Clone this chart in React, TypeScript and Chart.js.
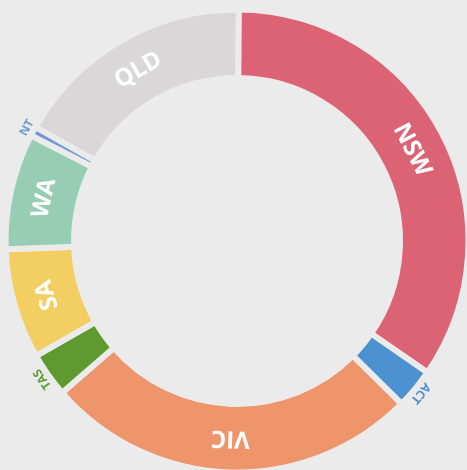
import React, { useEffect, useRef } from "react";
import { Chart, registerables } from "chart.js";

Chart.register(...registerables);

// Share by state (percent), clockwise from the top
const labels = ["NSW", "ACT", "VIC", "TAS", "SA", "WA", "NT", "QLD"];
const values = [34.5, 2.8, 26.2, 3.1, 7.7, 8.1, 0.67, 16.9];
const colors = ["#dc6374", "#4c91d0", "#ee956b", "#5f9a31", "#f3cf63", "#96cdb4", "#7199d4", "#d9d7d8"];
const outsideLabels = ["ACT", "TAS", "NT"];

const BG = "#ebebeb";

const labelPlugin = {
  id: "arcLabels",
  afterDatasetsDraw(chart: any) {
    const ctx = chart.ctx as CanvasRenderingContext2D;
    const meta = chart.getDatasetMeta(0);
    meta.data.forEach((arc: any, i: number) => {
      const { x, y, startAngle, endAngle, innerRadius, outerRadius } = arc.getProps(
        ["x", "y", "startAngle", "endAngle", "innerRadius", "outerRadius"],
        true
      );
      const mid = (startAngle + endAngle) / 2;
      const outside = outsideLabels.includes(labels[i]);
      const r = outside ? outerRadius + 7 : (innerRadius + outerRadius) / 2;
      ctx.save();
      ctx.translate(x + r * Math.cos(mid), y + r * Math.sin(mid));
      ctx.rotate(mid + Math.PI / 2);
      ctx.font = outside ? "bold 12px 'Open Sans'" : "bold 24px 'Open Sans'";
      ctx.fillStyle = outside ? colors[i] : "#ffffff";
      ctx.textAlign = "center";
      ctx.textBaseline = "middle";
      ctx.fillText(labels[i], 0, 0);
      ctx.restore();
    });
  },
};

export default function App() {
  const ref = useRef<HTMLCanvasElement>(null);
  useEffect(() => {
    const chart = new Chart(ref.current as HTMLCanvasElement, {
      type: "doughnut",
      data: {
        labels,
        datasets: [
          {
            data: values,
            backgroundColor: colors,
            borderColor: BG,
            borderWidth: 6,
            borderJoinStyle: "miter",
            hoverOffset: 0,
          } as any,
        ],
      },
      options: {
        responsive: false,
        animation: false,
        rotation: 0.4,
        radius: 231.5,
        cutout: "70.4%",
        layout: { padding: { left: 7, right: 0, top: 12, bottom: 0 } },
        plugins: { legend: { display: false }, tooltip: { enabled: false } },
        events: [],
      } as any,
      plugins: [labelPlugin],
    });
    return () => chart.destroy();
  }, []);
  return (
    <div
      style={{
        position: "fixed",
        left: 0,
        top: 0,
        width: 467,
        height: 470,
        background: BG,
        overflow: "hidden",
      }}
    >
      <canvas ref={ref} width={467} height={470} style={{ display: "block" }} />
    </div>
  );
}
